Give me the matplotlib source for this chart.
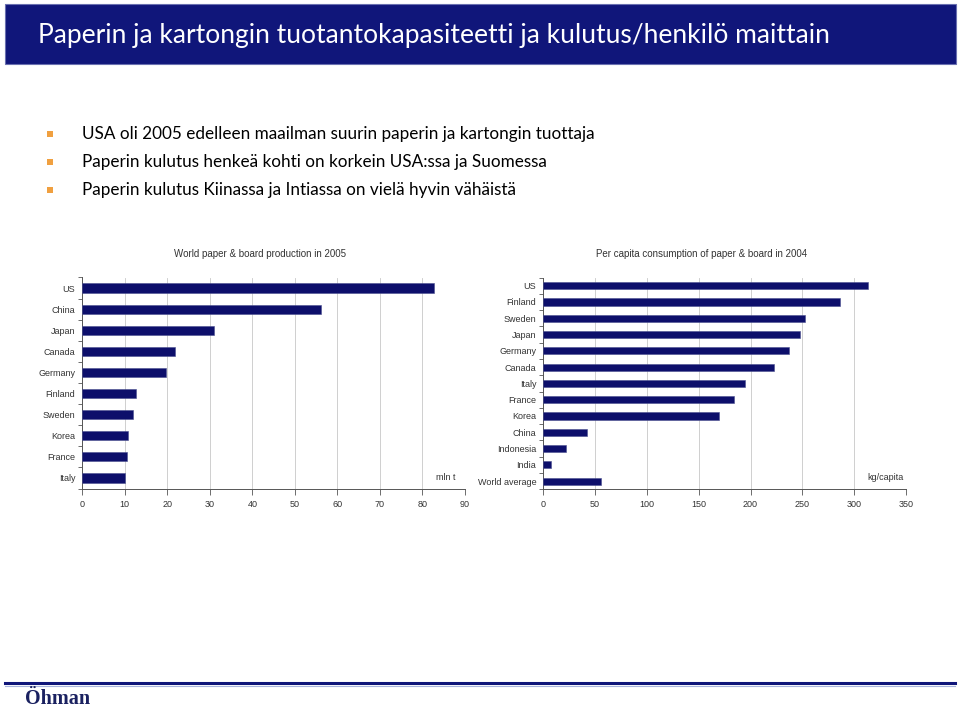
import matplotlib
matplotlib.use("Agg")
import matplotlib.pyplot as plt
from matplotlib.patches import Rectangle
from matplotlib.lines import Line2D
import numpy as np

# ---- data ----
prod_countries = ["US", "China", "Japan", "Canada", "Germany", "Finland", "Sweden", "Korea", "France", "Italy"]
prod_values = [82.7, 56.2, 30.9, 21.7, 19.6, 12.6, 11.9, 10.7, 10.6, 10.1]
prod_ticks = [0, 10, 20, 30, 40, 50, 60, 70, 80, 90]

cons_countries = ["US", "Finland", "Sweden", "Japan", "Germany", "Canada", "Italy", "France",
                  "Korea", "China", "Indonesia", "India", "World average"]
cons_values = [313, 286, 253, 248, 237, 223, 195, 184, 170, 42, 22, 7, 56]
cons_ticks = [0, 50, 100, 150, 200, 250, 300, 350]

title = "Paperin ja kartongin tuotantokapasiteetti ja kulutus/henkilö maittain"
bullets = ["USA oli 2005 edelleen maailman suurin paperin ja kartongin tuottaja",
           "Paperin kulutus henkeä kohti on korkein USA:ssa ja Suomessa",
           "Paperin kulutus Kiinassa ja Intiassa on vielä hyvin vähäistä"]
chart_titles = ["World paper & board production in 2005",
                "Per capita consumption of paper & board in 2004"]
units = ["mln t", "kg/capita"]

NAVY = "#10167a"
BAR = "#0d0f6b"
W, H = 960, 711

fig = plt.figure(figsize=(W / 100, H / 100), dpi=100)
fig.patch.set_facecolor("white")

def fx(x):
    return x / W

def fy(y):
    return 1 - y / H

# title bar
fig.patches.append(Rectangle((fx(5), fy(64)), fx(951), 60 / H, transform=fig.transFigure,
                             facecolor=NAVY, edgecolor="#6a70b0", linewidth=0.8))
fig.text(fx(38), fy(35), title, color="white", fontsize=19, family="Lato",
         va="center", ha="left")

# bullets
for i, b in enumerate(bullets):
    yy = 134 + i * 28
    fig.patches.append(Rectangle((fx(47), fy(yy + 3)), 6 / W, 6 / H, transform=fig.transFigure,
                                 facecolor="#f0a040", edgecolor="none"))
    fig.text(fx(82), fy(yy), b, color="black", fontsize=12.3, family="Lato",
             va="center", ha="left")

# footer
fig.lines.append(Line2D([fx(5), fx(955)], [fy(683), fy(683)], transform=fig.transFigure,
                        color=NAVY, linewidth=2.2))
fig.lines.append(Line2D([fx(5), fx(955)], [fy(685.5), fy(685.5)], transform=fig.transFigure,
                        color="#a8b4dc", linewidth=0.8))
fig.text(fx(25), fy(699), "Öhman", color="#1a2160", fontsize=14.5, family="Liberation Serif",
         fontweight="bold", va="center", ha="left")

FONT = "Liberation Sans"
TXT = "#333333"

def bar_chart(rect, cats, vals, ticks, ctitle, unit, title_xy, unit_xy):
    ax = fig.add_axes(rect)
    y = np.arange(len(cats))
    ax.barh(y, vals, height=0.44, color=BAR, edgecolor="#4a4f90", linewidth=0.4, zorder=3)
    ax.set_ylim(len(cats) - 0.5, -0.5)
    ax.set_xlim(ticks[0], ticks[-1])
    ax.set_xticks(ticks)
    ax.set_xticklabels([str(t) for t in ticks], fontsize=6.5, family=FONT, color=TXT)
    ax.set_yticks(y)
    ax.set_yticklabels(cats, fontsize=6.5, family=FONT, color=TXT)
    ax.set_yticks(np.arange(len(cats) + 1) - 0.5, minor=True)
    ax.tick_params(axis="y", which="major", length=0, pad=5)
    ax.tick_params(axis="y", which="minor", length=3, color="#555555", width=0.6)
    ax.tick_params(axis="x", which="major", length=4, color="#555555", width=0.6, pad=4)
    ax.grid(axis="x", color="#c8c8c8", linewidth=0.6, zorder=0)
    for s in ("top", "right"):
        ax.spines[s].set_visible(False)
    for s in ("left", "bottom"):
        ax.spines[s].set_color("#555555")
        ax.spines[s].set_linewidth(0.7)
    fig.text(fx(title_xy[0]), fy(title_xy[1]), ctitle, fontsize=7, family=FONT, color=TXT,
             ha="center", va="center")
    fig.text(fx(unit_xy[0]), fy(unit_xy[1]), unit, fontsize=6.5, family=FONT, color=TXT,
             ha="center", va="center")
    return ax

bar_chart([fx(82.3), fy(488.5), 382.7 / W, 211 / H], prod_countries, prod_values, prod_ticks,
          chart_titles[0], units[0], (260, 254), (446, 477))
bar_chart([fx(543.3), fy(489.3), 362.7 / W, 211.8 / H], cons_countries, cons_values, cons_ticks,
          chart_titles[1], units[1], (702, 254), (885, 477))

fig.savefig("out.png", dpi=100, facecolor="white")
